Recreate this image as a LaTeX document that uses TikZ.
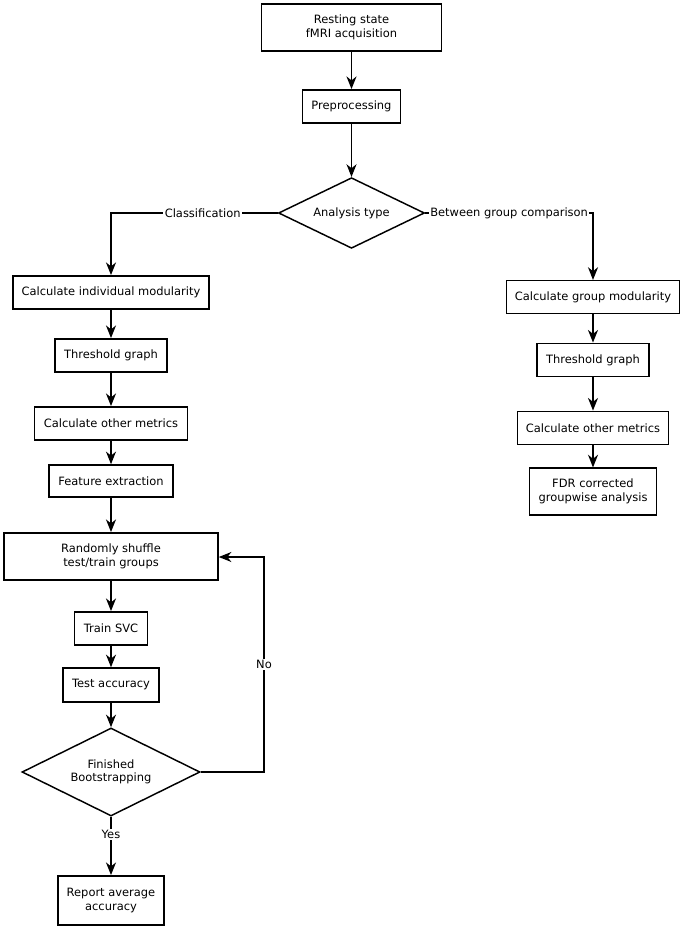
\documentclass[tikz,border=0pt]{standalone}
\usepackage{fontspec}
\setmainfont{DejaVu Sans}
\usetikzlibrary{shapes.geometric,arrows.meta}
\begin{document}
\begin{tikzpicture}[x=0.75pt,y=-0.75pt,
  font=\fontsize{8.6}{10.2}\selectfont,
  box/.style={draw,line width=1.1pt,align=center,inner sep=0pt},
  dia/.style={draw,line width=1.1pt,shape=diamond,align=center,inner sep=0pt,shape aspect=2},
  arr/.style={line width=1.1pt,-{Stealth[length=9.5pt,width=7.5pt,inset=3pt]}},
  lab/.style={fill=white,inner sep=1pt}]
\useasboundingbox (0,0) rectangle (683,928);
\node[box,minimum width=135pt,minimum height=35pt] (rest) at (351.5,27.5) {Resting state\\fMRI acquisition};
\node[box,minimum width=73.5pt,minimum height=25pt] (pre) at (351.5,106.5) {Preprocessing};
\node[dia,minimum width=109.5pt,minimum height=53pt] (ana) at (351.5,213) {Analysis type};
\node[box,minimum width=147pt,minimum height=25pt] (cim) at (111,292.5) {Calculate individual modularity};
\node[box,minimum width=130pt,minimum height=24.5pt] (cgm) at (593,297) {Calculate group modularity};
\node[box,minimum width=84pt,minimum height=25pt] (tgl) at (111,355.5) {Threshold graph};
\node[box,minimum width=84pt,minimum height=25pt] (tgr) at (593,360) {Threshold graph};
\node[box,minimum width=115pt,minimum height=25pt] (coml) at (111,423.5) {Calculate other metrics};
\node[box,minimum width=113pt,minimum height=25pt] (comr) at (593,428) {Calculate other metrics};
\node[box,minimum width=95pt,minimum height=35pt] (fdr) at (593,491.5) {FDR corrected\\groupwise analysis};
\node[box,minimum width=93pt,minimum height=24pt] (fe) at (111,481) {Feature extraction};
\node[box,minimum width=160.5pt,minimum height=35.5pt] (rs) at (111,556.5) {Randomly shuffle\\test/train groups};
\node[box,minimum width=55pt,minimum height=25pt] (svc) at (111,628.5) {Train SVC};
\node[box,minimum width=72pt,minimum height=25.5pt] (ta) at (111,685) {Test accuracy};
\node[dia,minimum width=133.5pt,minimum height=66pt] (fb) at (111,772) {Finished\\Bootstrapping};
\node[box,minimum width=79.5pt,minimum height=37pt] (rep) at (111,900.5) {Report average\\accuracy};
\coordinate (c1) at (111,213);
\coordinate (c2) at (593,213);
\coordinate (c3) at (264,772);
\coordinate (c4) at (264,557);
\draw[arr] (rest) -- (pre);
\draw[arr] (pre) -- (ana);
\draw[arr] (ana.west) -- node[lab,pos=0.45]{Classification} (c1) -- (cim);
\draw[arr] (ana.east) -- node[lab,pos=0.5]{Between group comparison} (c2) -- (cgm);
\draw[arr] (cim) -- (tgl);
\draw[arr] (tgl) -- (coml);
\draw[arr] (coml) -- (fe);
\draw[arr] (fe) -- (rs);
\draw[arr] (rs) -- (svc);
\draw[arr] (svc) -- (ta);
\draw[arr] (ta) -- (fb);
\draw[arr] (fb) -- node[lab,pos=0.3]{Yes} (rep);
\draw[arr] (fb.east) -- (c3) -- node[lab,pos=0.5]{No} (c4) -- (rs.east |- c4);
\draw[arr] (cgm) -- (tgr);
\draw[arr] (tgr) -- (comr);
\draw[arr] (comr) -- (fdr);
\end{tikzpicture}
\end{document}
